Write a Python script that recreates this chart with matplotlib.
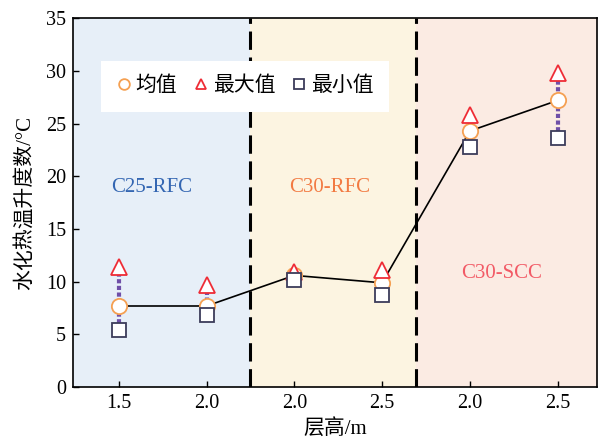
import matplotlib.pyplot as plt
import numpy as np

# positions of the six cases along the axis, and their labels
x_pos = [0, 1, 2, 3, 4, 5]
x_labels = ["1.5", "2.0", "2.0", "2.5", "2.0", "2.5"]

mean_vals = [7.7, 7.7, 10.6, 9.9, 24.3, 27.2]
max_vals = [11.4, 9.7, 10.9, 11.1, 25.8, 29.8]
min_vals = [5.4, 6.8, 10.2, 8.7, 22.8, 23.6]

groups = ["C25-RFC", "C30-RFC", "C30-SCC"]
bounds = [-0.52, 1.5, 3.39, 5.45]
group_colors = ["#e7eff8", "#fcf4e1", "#fbebe3"]
text_colors = ["#3466b2", "#f27a42", "#f25a66"]
text_xy = [(0.38, 18.9), (2.4, 18.9), (4.36, 10.8)]

plt.rcParams["font.family"] = ["Liberation Serif", "Noto Sans CJK SC"]

fig = plt.figure(figsize=(5.99, 4.43), dpi=100)
ax = fig.add_axes([0.122, 0.126, 0.875, 0.833])

for i in range(3):
    ax.axvspan(bounds[i], bounds[i + 1], color=group_colors[i], zorder=0, lw=0)
    ax.text(text_xy[i][0], text_xy[i][1], groups[i], color=text_colors[i],
            fontsize=15, ha="center", va="center")
for b in bounds[1:3]:
    ax.axvline(b, color="black", lw=2.2, ls=(0, (6, 2.5)), zorder=2)

# min-max range lines
for x, lo, hi in zip(x_pos, min_vals, max_vals):
    ax.plot([x, x], [lo, hi], color="#6f4fa8", lw=3, ls=(0, (1, 0.6)), zorder=3)

ax.plot(x_pos, mean_vals, color="black", lw=1.2, zorder=3)
ax.plot(x_pos, mean_vals, "o", ms=11, mfc="white", mec="#f5a052", mew=1.3,
        zorder=4, label="均值")
ax.plot(x_pos, max_vals, "^", ms=11, mfc="white", mec="#ee2c36", mew=1.3,
        zorder=5, label="最大值")
ax.plot(x_pos, min_vals, "s", ms=10, mfc="white", mec="#3c3c5a", mew=1.3,
        zorder=5, label="最小值")

ax.set_xlim(bounds[0], bounds[-1])
ax.set_ylim(0, 35)
ax.set_xticks(x_pos)
ax.set_xticklabels(x_labels)
ax.set_yticks(np.arange(0, 36, 5))
ax.tick_params(direction="in", labelsize=14.5, length=4, width=1, pad=5)
for s in ax.spines.values():
    s.set_linewidth(1.2)
    s.set_zorder(6)

ax.set_xlabel("层高/m", fontsize=15, labelpad=4)
ax.set_ylabel("水化热温升度数/°C", fontsize=15, labelpad=8)

leg = ax.legend(loc="center", bbox_to_anchor=(0.328, 0.815), ncol=3, fontsize=15,
                frameon=True, fancybox=False, edgecolor="none", framealpha=1,
                handlelength=0.7, handletextpad=0.2, columnspacing=0.8,
                markerscale=0.7, borderpad=0.75, borderaxespad=0)
leg.set_zorder(7)

fig.savefig("out.png", dpi=100)
